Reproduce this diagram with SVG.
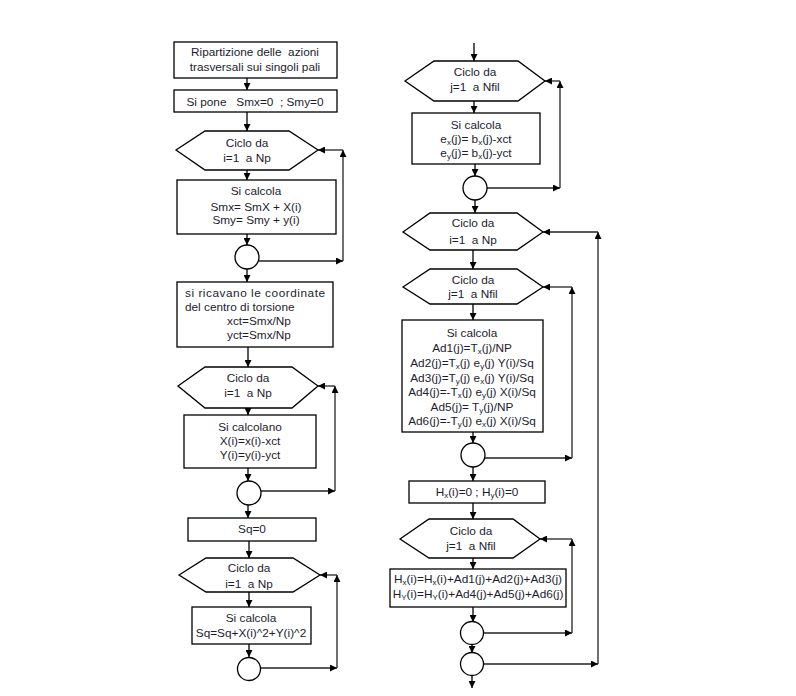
<svg xmlns="http://www.w3.org/2000/svg" width="796" height="696" viewBox="0 0 796 696">
<defs>
<marker id="ah" viewBox="0 0 10 10" refX="10" refY="5" markerWidth="7" markerHeight="7" markerUnits="userSpaceOnUse" orient="auto">
<path d="M0,0 L10,5 L0,10 z" fill="#000"/>
</marker>
<style>
.b{fill:#fff;stroke:#000;stroke-width:1.3}
.t{font-family:"Liberation Sans",Arial,sans-serif;font-size:11.8px;fill:#1c1c30;text-anchor:middle;white-space:pre}
.l{text-anchor:start}
.s{font-size:8px}
.c{fill:none;stroke:#000;stroke-width:1.3;marker-end:url(#ah)}
.lp{fill:none;stroke:#222;stroke-width:1.3;marker-end:url(#ah)}
</style>
</defs>
<rect width="796" height="696" fill="#fff"/>

<g id="connectors">
<!-- left column -->
<line class="c" x1="247" y1="78" x2="247" y2="90"/>
<line class="c" x1="247" y1="112" x2="247" y2="131"/>
<line class="c" x1="247" y1="170" x2="247" y2="180"/>
<line class="c" x1="247" y1="234" x2="247" y2="245"/>
<line class="lp" x1="259" y1="261" x2="343" y2="261"/>
<line class="lp" x1="343" y1="261" x2="343" y2="150"/>
<line class="lp" x1="343" y1="150" x2="318" y2="150"/>
<line class="c" x1="247" y1="269" x2="247" y2="282"/>
<line class="c" x1="248" y1="347" x2="248" y2="367"/>
<line class="c" x1="248" y1="408" x2="248" y2="415"/>
<line class="c" x1="248" y1="468" x2="248" y2="481"/>
<line class="lp" x1="261" y1="491" x2="335" y2="491"/>
<line class="lp" x1="335" y1="491" x2="335" y2="386"/>
<line class="lp" x1="335" y1="386" x2="318" y2="386"/>
<line class="c" x1="248" y1="505" x2="248" y2="518"/>
<line class="c" x1="249" y1="541" x2="249" y2="558"/>
<line class="c" x1="249" y1="592" x2="249" y2="607"/>
<line class="c" x1="249" y1="644" x2="249" y2="657"/>
<line class="lp" x1="261" y1="668" x2="337" y2="668"/>
<line class="lp" x1="337" y1="668" x2="337" y2="575"/>
<line class="lp" x1="337" y1="575" x2="320" y2="575"/>
<!-- right column -->
<line class="c" x1="474" y1="43" x2="474" y2="61"/>
<line class="c" x1="474" y1="101" x2="474" y2="113"/>
<line class="c" x1="475" y1="164" x2="475" y2="176"/>
<line class="lp" x1="487" y1="188" x2="560" y2="188"/>
<line class="lp" x1="560" y1="188" x2="560" y2="81"/>
<line class="lp" x1="560" y1="81" x2="545" y2="81"/>
<line class="c" x1="475" y1="200" x2="475" y2="213"/>
<line class="c" x1="473" y1="250" x2="473" y2="269"/>
<line class="c" x1="473" y1="304" x2="473" y2="320"/>
<line class="c" x1="473" y1="432" x2="473" y2="443"/>
<line class="lp" x1="485" y1="458" x2="572" y2="458"/>
<line class="lp" x1="572" y1="458" x2="572" y2="287"/>
<line class="lp" x1="572" y1="287" x2="543" y2="287"/>
<line class="c" x1="473" y1="467" x2="473" y2="481"/>
<line class="c" x1="473" y1="503" x2="473" y2="519"/>
<line class="c" x1="473" y1="558" x2="473" y2="569"/>
<line class="c" x1="473" y1="607" x2="473" y2="622"/>
<line class="lp" x1="484" y1="633" x2="572" y2="633"/>
<line class="lp" x1="572" y1="633" x2="572" y2="539"/>
<line class="lp" x1="572" y1="539" x2="540" y2="539"/>
<line class="c" x1="472" y1="645" x2="472" y2="653"/>
<line class="lp" x1="484" y1="664" x2="598" y2="664"/>
<line class="lp" x1="598" y1="664" x2="598" y2="232"/>
<line class="lp" x1="598" y1="232" x2="543" y2="232"/>
<line class="c" x1="472" y1="676" x2="472" y2="688"/>
</g>

<g id="n1"><rect class="b" x="174" y="42" width="163" height="36"/>
<text class="t" x="255" y="56">Ripartizione delle  azioni</text>
<text class="t" x="255" y="71">trasversali sui singoli pali</text></g>

<g id="n2"><rect class="b" x="174" y="90" width="163" height="22"/>
<text class="t" x="255" y="106">Si pone   Smx=0  ; Smy=0</text></g>

<g id="n3"><polygon class="b" points="176,150 205,131 289,131 318,150 289,170 205,170"/>
<text class="t" x="247" y="147">Ciclo da</text>
<text class="t" x="247" y="162">i=1  a Np</text></g>

<g id="n4"><rect class="b" x="177" y="180" width="159" height="54"/>
<text class="t" x="256" y="195">Si calcola</text>
<text class="t" x="256" y="211">Smx= SmX + X(i)</text>
<text class="t" x="256" y="224">Smy= Smy + y(i)</text></g>

<g id="n5"><circle class="b" cx="247" cy="257" r="12"/></g>

<g id="n6"><rect class="b" x="177" y="282" width="156" height="65"/>
<text class="t l" x="185" y="297" textLength="140" lengthAdjust="spacing">si ricavano le coordinate</text>
<text class="t l" x="185" y="311">del centro di torsione</text>
<text class="t l" x="227" y="325">xct=Smx/Np</text>
<text class="t l" x="227" y="339">yct=Smx/Np</text></g>

<g id="n7"><polygon class="b" points="178,386 205,367 292,367 318,386 292,408 205,408"/>
<text class="t" x="248" y="382">Ciclo da</text>
<text class="t" x="248" y="397">i=1  a Np</text></g>

<g id="n8"><rect class="b" x="184" y="415" width="132" height="53"/>
<text class="t" x="250" y="431">Si calcolano</text>
<text class="t" x="250" y="445">X(i)=x(i)-xct</text>
<text class="t" x="250" y="459">Y(i)=y(i)-yct</text></g>

<g id="n9"><circle class="b" cx="249" cy="493" r="12"/></g>

<g id="n10"><rect class="b" x="188" y="518" width="128" height="23"/>
<text class="t" x="252" y="533">Sq=0</text></g>

<g id="n11"><polygon class="b" points="179,575 206,558 293,558 320,575 293,592 206,592"/>
<text class="t" x="249" y="572">Ciclo da</text>
<text class="t" x="249" y="588">i=1  a Np</text></g>

<g id="n12"><rect class="b" x="192" y="607" width="119" height="37"/>
<text class="t" x="251" y="622">Si calcola</text>
<text class="t" x="251" y="637">Sq=Sq+X(i)^2+Y(i)^2</text></g>

<g id="n13"><circle class="b" cx="249" cy="669" r="11.5"/></g>

<g id="n14"><polygon class="b" points="405,81 434,61 518,61 545,81 518,101 434,101"/>
<text class="t" x="475" y="76">Ciclo da</text>
<text class="t" x="475" y="91">j=1  a Nfil</text></g>

<g id="n15"><rect class="b" x="412" y="113" width="128" height="51"/>
<text class="t" x="476" y="129">Si calcola</text>
<text class="t" x="476" y="143">e<tspan class="s" dy="2">x</tspan><tspan dy="-2">(j)= b</tspan><tspan class="s" dy="2">x</tspan><tspan dy="-2">(j)-xct</tspan></text>
<text class="t" x="476" y="157">e<tspan class="s" dy="2">y</tspan><tspan dy="-2">(j)= b</tspan><tspan class="s" dy="2">x</tspan><tspan dy="-2">(j)-yct</tspan></text></g>

<g id="n16"><circle class="b" cx="475" cy="188" r="12"/></g>

<g id="n17"><polygon class="b" points="403,232 430,213 517,213 543,232 517,250 430,250"/>
<text class="t" x="473" y="227">Ciclo da</text>
<text class="t" x="473" y="244">i=1  a Np</text></g>

<g id="n18"><polygon class="b" points="403,287 430,269 517,269 543,287 517,304 430,304"/>
<text class="t" x="473" y="284">Ciclo da</text>
<text class="t" x="473" y="298">j=1  a Nfil</text></g>

<g id="n19"><rect class="b" x="402" y="320" width="141" height="112"/>
<text class="t" x="472" y="337">Si calcola</text>
<text class="t" x="472" y="352">Ad1(j)=T<tspan class="s" dy="2">x</tspan><tspan dy="-2">(j)/NP</tspan></text>
<text class="t" x="472" y="367">Ad2(j)=T<tspan class="s" dy="2">x</tspan><tspan dy="-2">(j) e</tspan><tspan class="s" dy="2">y</tspan><tspan dy="-2">(j) Y(i)/Sq</tspan></text>
<text class="t" x="472" y="382">Ad3(j)=T<tspan class="s" dy="2">y</tspan><tspan dy="-2">(j) e</tspan><tspan class="s" dy="2">x</tspan><tspan dy="-2">(j) Y(i)/Sq</tspan></text>
<text class="t" x="472" y="396">Ad4(j)=-T<tspan class="s" dy="2">x</tspan><tspan dy="-2">(j) e</tspan><tspan class="s" dy="2">y</tspan><tspan dy="-2">(j) X(i)/Sq</tspan></text>
<text class="t" x="472" y="411">Ad5(j)= T<tspan class="s" dy="2">y</tspan><tspan dy="-2">(j)/NP</tspan></text>
<text class="t" x="472" y="425">Ad6(j)=-T<tspan class="s" dy="2">y</tspan><tspan dy="-2">(j) e</tspan><tspan class="s" dy="2">x</tspan><tspan dy="-2">(j) X(i)/Sq</tspan></text></g>

<g id="n20"><circle class="b" cx="473" cy="455" r="12"/></g>

<g id="n21"><rect class="b" x="409" y="481" width="136" height="22"/>
<text class="t" x="477" y="496">H<tspan class="s" dy="2">x</tspan><tspan dy="-2">(i)=0 ; H</tspan><tspan class="s" dy="2">y</tspan><tspan dy="-2">(i)=0</tspan></text></g>

<g id="n22"><polygon class="b" points="400,539 429,519 513,519 540,539 513,558 429,558"/>
<text class="t" x="471" y="535">Ciclo da</text>
<text class="t" x="471" y="550">j=1  a Nfil</text></g>

<g id="n23"><rect class="b" x="390" y="569" width="176" height="38"/>
<text class="t" x="478" y="583">H<tspan class="s" dy="2">x</tspan><tspan dy="-2">(i)=H</tspan><tspan class="s" dy="2">x</tspan><tspan dy="-2">(i)+Ad1(j)+Ad2(j)+Ad3(j)</tspan></text>
<text class="t" x="478" y="598">H<tspan class="s" dy="2">Y</tspan><tspan dy="-2">(i)=H</tspan><tspan class="s" dy="2">Y</tspan><tspan dy="-2">(i)+Ad4(j)+Ad5(j)+Ad6(j)</tspan></text></g>

<g id="n24"><circle class="b" cx="472" cy="633" r="11.5"/></g>
<g id="n25"><circle class="b" cx="472" cy="664" r="11.5"/></g>
</svg>
